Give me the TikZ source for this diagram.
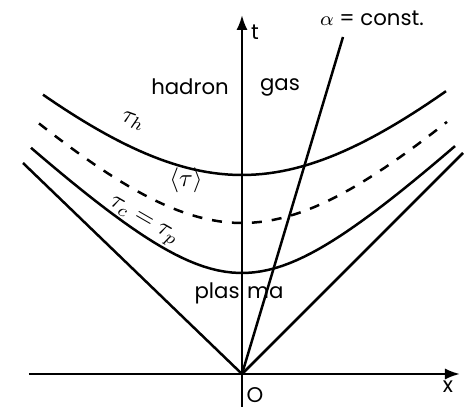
\documentclass[tikz,border=0pt]{standalone}
\usepackage{fontspec}
\setmainfont{Poppins}
\usepackage{amsmath}
\usetikzlibrary{arrows.meta,calc}

\begin{document}
\begin{tikzpicture}[x=4pt, y=4pt, line width=1pt, font=\fontsize{8.5}{10}\selectfont,
            taulabel/.style={inner sep=0pt, font=\fontsize{10}{12}\selectfont}]
            \useasboundingbox (-24.2,-3.4) rectangle (22.8,37.4);
            \coordinate (O) at (0,0);
            \coordinate (xl) at (-21.3,0);
            \coordinate (xr) at (21.8,0);
            \coordinate (tb) at (0,-3.3);
            \coordinate (tt) at (0,35.9);
            \coordinate (cl) at (-21.9,21.1);
            \coordinate (cr) at (22.1,22.1);
            \coordinate (al) at (10.1,33.7);
            \draw[-{Latex[length=6pt,width=4.5pt]}] (xl) -- (xr);
            \draw[-{Latex[length=6pt,width=4.5pt]}] (tb) -- (tt);
            \draw (cl) -- (O) -- (cr);
            \draw (O) -- (al);
            \draw plot[domain=-21.1:21.3, samples=60] (\x,{sqrt(10.1*10.1+0.92*\x*\x)});
            \draw[dash pattern=on 4pt off 4pt] plot[domain=-20.3:20.5, samples=60] (\x,{sqrt(15.1*15.1+0.97*\x*\x)});
            \draw plot[domain=-19.9:20.4, samples=60] (\x,{sqrt(19.9*19.9+0.97*\x*\x)});
            \node (t) at (1.3,34.2) {t};
            \node (x) at (20.6,-1.3) {x};
            \node (o) at (1.3,-2.1) {O};
            \node (alpha) at (13.0,35.6) {$\alpha$ = const.};
            \node (hadron) at (-5.2,28.7) {hadron};
            \node (gas) at (3.8,28.7) {gas};
            \node (plasma) at (-0.3,8.1) {plas\hspace{3pt}ma};
            \node[taulabel, rotate=-20] (tauh) at (-10.9,25.3) {$\tau_h$};
            \node[taulabel] (taum) at (-5.6,19.4) {$\langle\tau\rangle$};
            \node[taulabel, rotate=-30] (tauc) at (-9.9,15.2) {$\tau_c = \tau_p$};
\end{tikzpicture}
\end{document}
